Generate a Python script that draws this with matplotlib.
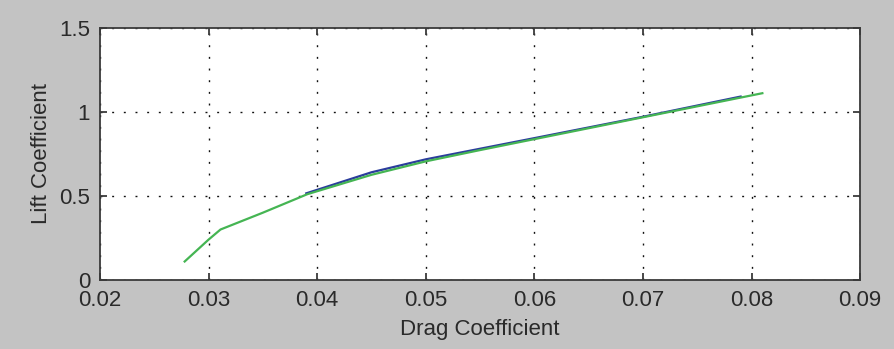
import matplotlib
matplotlib.use("Agg")
import matplotlib.pyplot as plt
from matplotlib.ticker import FixedLocator

# Data
drag_green = [0.0278, 0.0300, 0.0311, 0.0350, 0.0391, 0.0450, 0.0500, 0.0550, 0.0600, 0.0700, 0.0810]
lift_green = [0.11, 0.24, 0.30, 0.40, 0.51, 0.625, 0.705, 0.772, 0.837, 0.967, 1.11]

drag_blue = [0.0390, 0.0450, 0.0500, 0.0550, 0.0600, 0.0700, 0.0790]
lift_blue = [0.515, 0.640, 0.717, 0.780, 0.843, 0.970, 1.09]

x_ticks = [0.02, 0.03, 0.04, 0.05, 0.06, 0.07, 0.08, 0.09]
x_tick_labels = ["0.02", "0.03", "0.04", "0.05", "0.06", "0.07", "0.08", "0.09"]
y_ticks = [0, 0.5, 1, 1.5]
y_tick_labels = ["0", "0.5", "1", "1.5"]

x_label = "Drag Coefficient"
y_label = "Lift Coefficient"

plt.rcParams['font.family'] = ['Liberation Sans', 'DejaVu Sans']

fig = plt.figure(figsize=(8.95, 3.49), dpi=100)
fig.patch.set_facecolor('#c3c3c3')
ax = fig.add_axes([0.1117, 0.1977, 0.961 - 0.1117, 0.921 - 0.1977])
ax.set_facecolor('white')

ax.plot(drag_blue, lift_blue, color='#2b3d9c', lw=1.6, zorder=3)
ax.plot(drag_green, lift_green, color='#45b553', lw=1.6, zorder=4)

ax.set_xlim(0.02, 0.09)
ax.set_ylim(0, 1.5)
ax.xaxis.set_major_locator(FixedLocator(x_ticks))
ax.yaxis.set_major_locator(FixedLocator(y_ticks))
ax.set_xticklabels(x_tick_labels)
ax.set_yticklabels(y_tick_labels)

ax.grid(True, color='#111111', linestyle=(0, (1.4, 7.0)), linewidth=1.0, zorder=1)
for s in ax.spines.values():
    s.set_color('#3a3a3a')
    s.set_linewidth(1.3)
ax.tick_params(direction='in', length=5, width=1.3, color='#3a3a3a',
               top=True, right=True, labelsize=16, labelcolor='#2a2a2a', pad=7)

ax.set_xlabel(x_label, fontsize=16, color='#2a2a2a', labelpad=6)
ax.set_ylabel(y_label, fontsize=16, color='#2a2a2a', labelpad=5)

fig.savefig('out.png', dpi=100, facecolor=fig.get_facecolor())
